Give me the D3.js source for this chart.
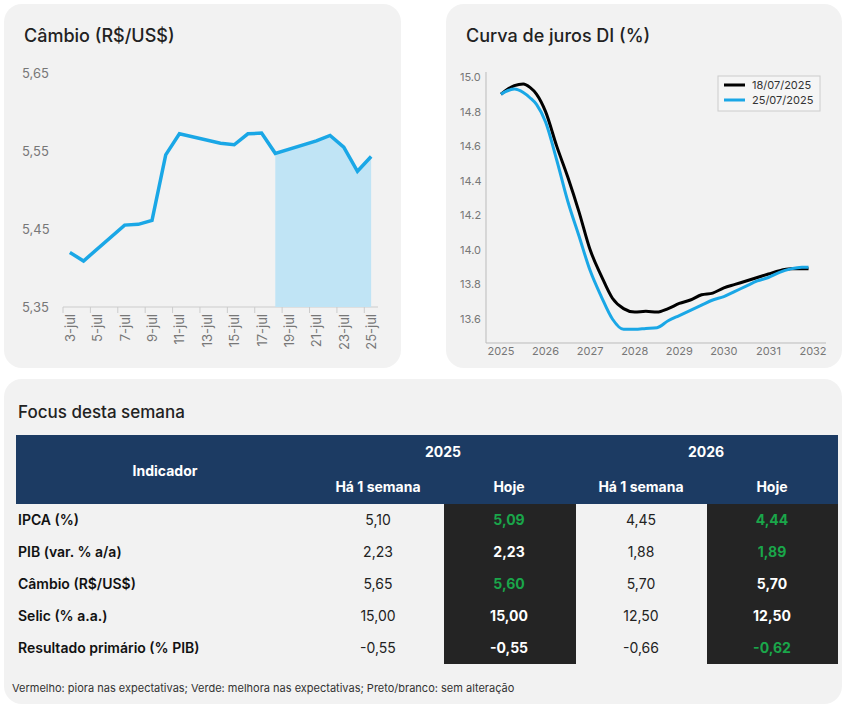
<!DOCTYPE html>
<html><head><meta charset="utf-8">
<script src="https://cdn.jsdelivr.net/npm/d3@7"></script>
<style>
body{margin:0;background:#fff;font-family:Inter,"Noto Sans",sans-serif}
</style></head><body>
<svg id="c" width="846" height="706"></svg>
<script>
// Câmbio
const fxDays = [3,4,7,8,9,10,11,14,15,16,17,18,21,22,23,24,25]
const fxValues = [5.42,5.409,5.455,5.456,5.461,5.545,5.572,5.56,5.558,5.572,5.573,5.547,5.563,5.57,5.555,5.524,5.543]
const fxTicks = [5.35,5.45,5.55,5.65]
// DI curve
const diYears = [2025,2025.1,2025.3,2025.5,2025.65,2025.8,2026,2026.25,2026.5,2026.75,2027,2027.25,2027.5,2027.75,2028,2028.25,2028.5,2028.75,2029,2029.25,2029.5,2029.75,2030,2030.25,2030.5,2030.75,2031,2031.25,2031.5,2031.75,2031.9]
const di18 = [14.9,14.92,14.95,14.96,14.94,14.9,14.8,14.6,14.42,14.22,14.0,13.85,13.72,13.66,13.64,13.645,13.64,13.66,13.69,13.71,13.74,13.75,13.78,13.8,13.82,13.84,13.86,13.88,13.89,13.89,13.89]
const di25 = [14.9,14.915,14.93,14.91,14.88,14.84,14.74,14.52,14.28,14.08,13.88,13.73,13.6,13.54,13.54,13.545,13.55,13.59,13.62,13.65,13.68,13.71,13.73,13.76,13.79,13.82,13.84,13.87,13.89,13.9,13.9]
const diTicks = [13.6,13.8,14.0,14.2,14.4,14.6,14.8,15.0]
const diLegend = ['18/07/2025','25/07/2025']
// Focus table
const indicators = ['IPCA (%)','PIB (var. % a/a)','Câmbio (R$/US$)','Selic (% a.a.)','Resultado primário (% PIB)']
const prev2025 = ['5,10','2,23','5,65','15,00','-0,55']
const now2025 = ['5,09','2,23','5,60','15,00','-0,55']
const prev2026 = ['4,45','1,88','5,70','12,50','-0,66']
const now2026 = ['4,44','1,89','5,70','12,50','-0,62']
const now2025Col = ['g','w','g','w','w']
const now2026Col = ['g','g','w','w','g']

const svg = d3.select('#c')
const panel = '#f2f2f2', grey = '#777', blue = '#1aa7e6'
svg.append('rect').attr('x',4).attr('y',4).attr('width',397).attr('height',364).attr('rx',18).attr('fill',panel)
svg.append('rect').attr('x',446).attr('y',4).attr('width',396).attr('height',364).attr('rx',18).attr('fill',panel)
svg.append('rect').attr('x',4).attr('y',379).attr('width',838).attr('height',325).attr('rx',18).attr('fill',panel)
svg.append('text').attr('x',24).attr('y',42).attr('font-size',18).attr('font-weight',500).attr('fill','#222').text('Câmbio (R$/US$)')
svg.append('text').attr('x',466).attr('y',42).attr('font-size',18).attr('font-weight',500).attr('fill','#222').text('Curva de juros DI (%)')
svg.append('text').attr('x',18).attr('y',418).attr('font-size',17).attr('font-weight',500).attr('fill','#222').text('Focus desta semana')

// left chart
const days = d3.range(3,26)
const x1 = d3.scaleBand().domain(days).range([63,378])
const y1 = d3.scaleLinear().domain([5.35,5.65]).range([307,73])
const g1 = svg.append('g')
const cx = d => x1(d)+x1.bandwidth()/2
fxTicks.forEach(t=>g1.append('text').attr('x',22).attr('y',y1(t)+5).attr('font-size',13).attr('fill',grey).text(d3.format('.2f')(t).replace('.',',')))
g1.append('line').attr('x1',63).attr('x2',378).attr('y1',307).attr('y2',307).attr('stroke','#ccc')
days.filter((d,i)=>i%2==0).forEach(d=>{
  g1.append('line').attr('x1',x1(d)).attr('x2',x1(d)).attr('y1',307).attr('y2',313).attr('stroke','#ccc')
  g1.append('text').attr('transform',`translate(${cx(d)+5},314) rotate(-90)`).attr('text-anchor','end').attr('font-size',13).attr('fill',grey).text(d+'-jul')
})
const fx = fxDays.map((d,i)=>({d,v:fxValues[i]}))
g1.append('path').datum(fx.filter(p=>p.d>=18))
  .attr('d',d3.area().x(p=>cx(p.d)).y0(307).y1(p=>y1(p.v))).attr('fill','#c0e4f5')
g1.append('path').datum(fx).attr('d',d3.line().x(p=>cx(p.d)).y(p=>y1(p.v)))
  .attr('fill','none').attr('stroke',blue).attr('stroke-width',3.5)

// right chart
const x2 = d3.scaleLinear().domain([2025,2032]).range([501,813])
const y2 = d3.scaleLinear().domain([13.6,15.0]).range([319,77])
const g2 = svg.append('g')
g2.append('line').attr('x1',486).attr('x2',826).attr('y1',343).attr('y2',343).attr('stroke','#bbb')
g2.append('line').attr('x1',486).attr('x2',486).attr('y1',72).attr('y2',343).attr('stroke','#bbb')
diTicks.forEach(t=>g2.append('text').attr('x',460).attr('y',y2(t)+4).attr('font-size',11).attr('fill',grey).text(t.toFixed(1)))
d3.range(2025,2033).forEach(t=>g2.append('text').attr('x',x2(t)).attr('y',355).attr('text-anchor','middle').attr('font-size',11).attr('fill',grey).text(t))
const line2 = d3.line().x((d,i)=>x2(diYears[i])).y(d=>y2(d)).curve(d3.curveMonotoneX)
g2.append('path').datum(di18).attr('d',line2).attr('fill','none').attr('stroke','#000').attr('stroke-width',3)
g2.append('path').datum(di25).attr('d',line2).attr('fill','none').attr('stroke',blue).attr('stroke-width',3)
g2.append('rect').attr('x',718).attr('y',76).attr('width',102).attr('height',35).attr('fill','#f5f5f5').attr('stroke','#ccc')
;[['#000',0],[blue,1]].forEach(([c,i])=>{
  g2.append('line').attr('x1',724).attr('x2',745).attr('y1',85+i*15).attr('y2',85+i*15).attr('stroke',c).attr('stroke-width',3)
  g2.append('text').attr('x',752).attr('y',89+i*15).attr('font-size',11).attr('fill','#333').text(diLegend[i])
})

// table
const navy = '#1c3b63', dark = '#242424', green = '#1aa64a'
const t = svg.append('g')
t.append('rect').attr('x',16).attr('y',435).attr('width',822).attr('height',69).attr('fill',navy)
const hdr = (x,y,s)=>t.append('text').attr('x',x).attr('y',y).attr('text-anchor','middle').attr('font-size',14).attr('font-weight',700).attr('fill','#fff').text(s)
hdr(165,476,'Indicador'); hdr(443,457,'2025'); hdr(706,457,'2026')
hdr(378,492,'Há 1 semana'); hdr(509,492,'Hoje'); hdr(641,492,'Há 1 semana'); hdr(772,492,'Hoje')
t.append('rect').attr('x',444).attr('y',504).attr('width',132).attr('height',160).attr('fill',dark)
t.append('rect').attr('x',707).attr('y',504).attr('width',131).attr('height',160).attr('fill',dark)
const ry = d3.scaleBand().domain(d3.range(indicators.length)).range([504,664])
indicators.forEach((name,i)=>{
  const y = ry(i)+ry.bandwidth()/2+5
  t.append('text').attr('x',18).attr('y',y).attr('font-size',14).attr('font-weight',600).attr('fill','#111').text(name)
  const cell=(x,s,fill,bold)=>t.append('text').attr('x',x).attr('y',y).attr('text-anchor','middle').attr('font-size',14).attr('font-weight',bold?700:400).attr('fill',fill).text(s)
  cell(378,prev2025[i],'#222',false)
  cell(509,now2025[i],now2025Col[i]=='g'?green:'#fff',true)
  cell(641,prev2026[i],'#222',false)
  cell(772,now2026[i],now2026Col[i]=='g'?green:'#fff',true)
})
svg.append('text').attr('x',12).attr('y',692).attr('font-size',11).attr('fill','#333')
  .text('Vermelho: piora nas expectativas; Verde: melhora nas expectativas; Preto/branco: sem alteração')
</script></body></html>
